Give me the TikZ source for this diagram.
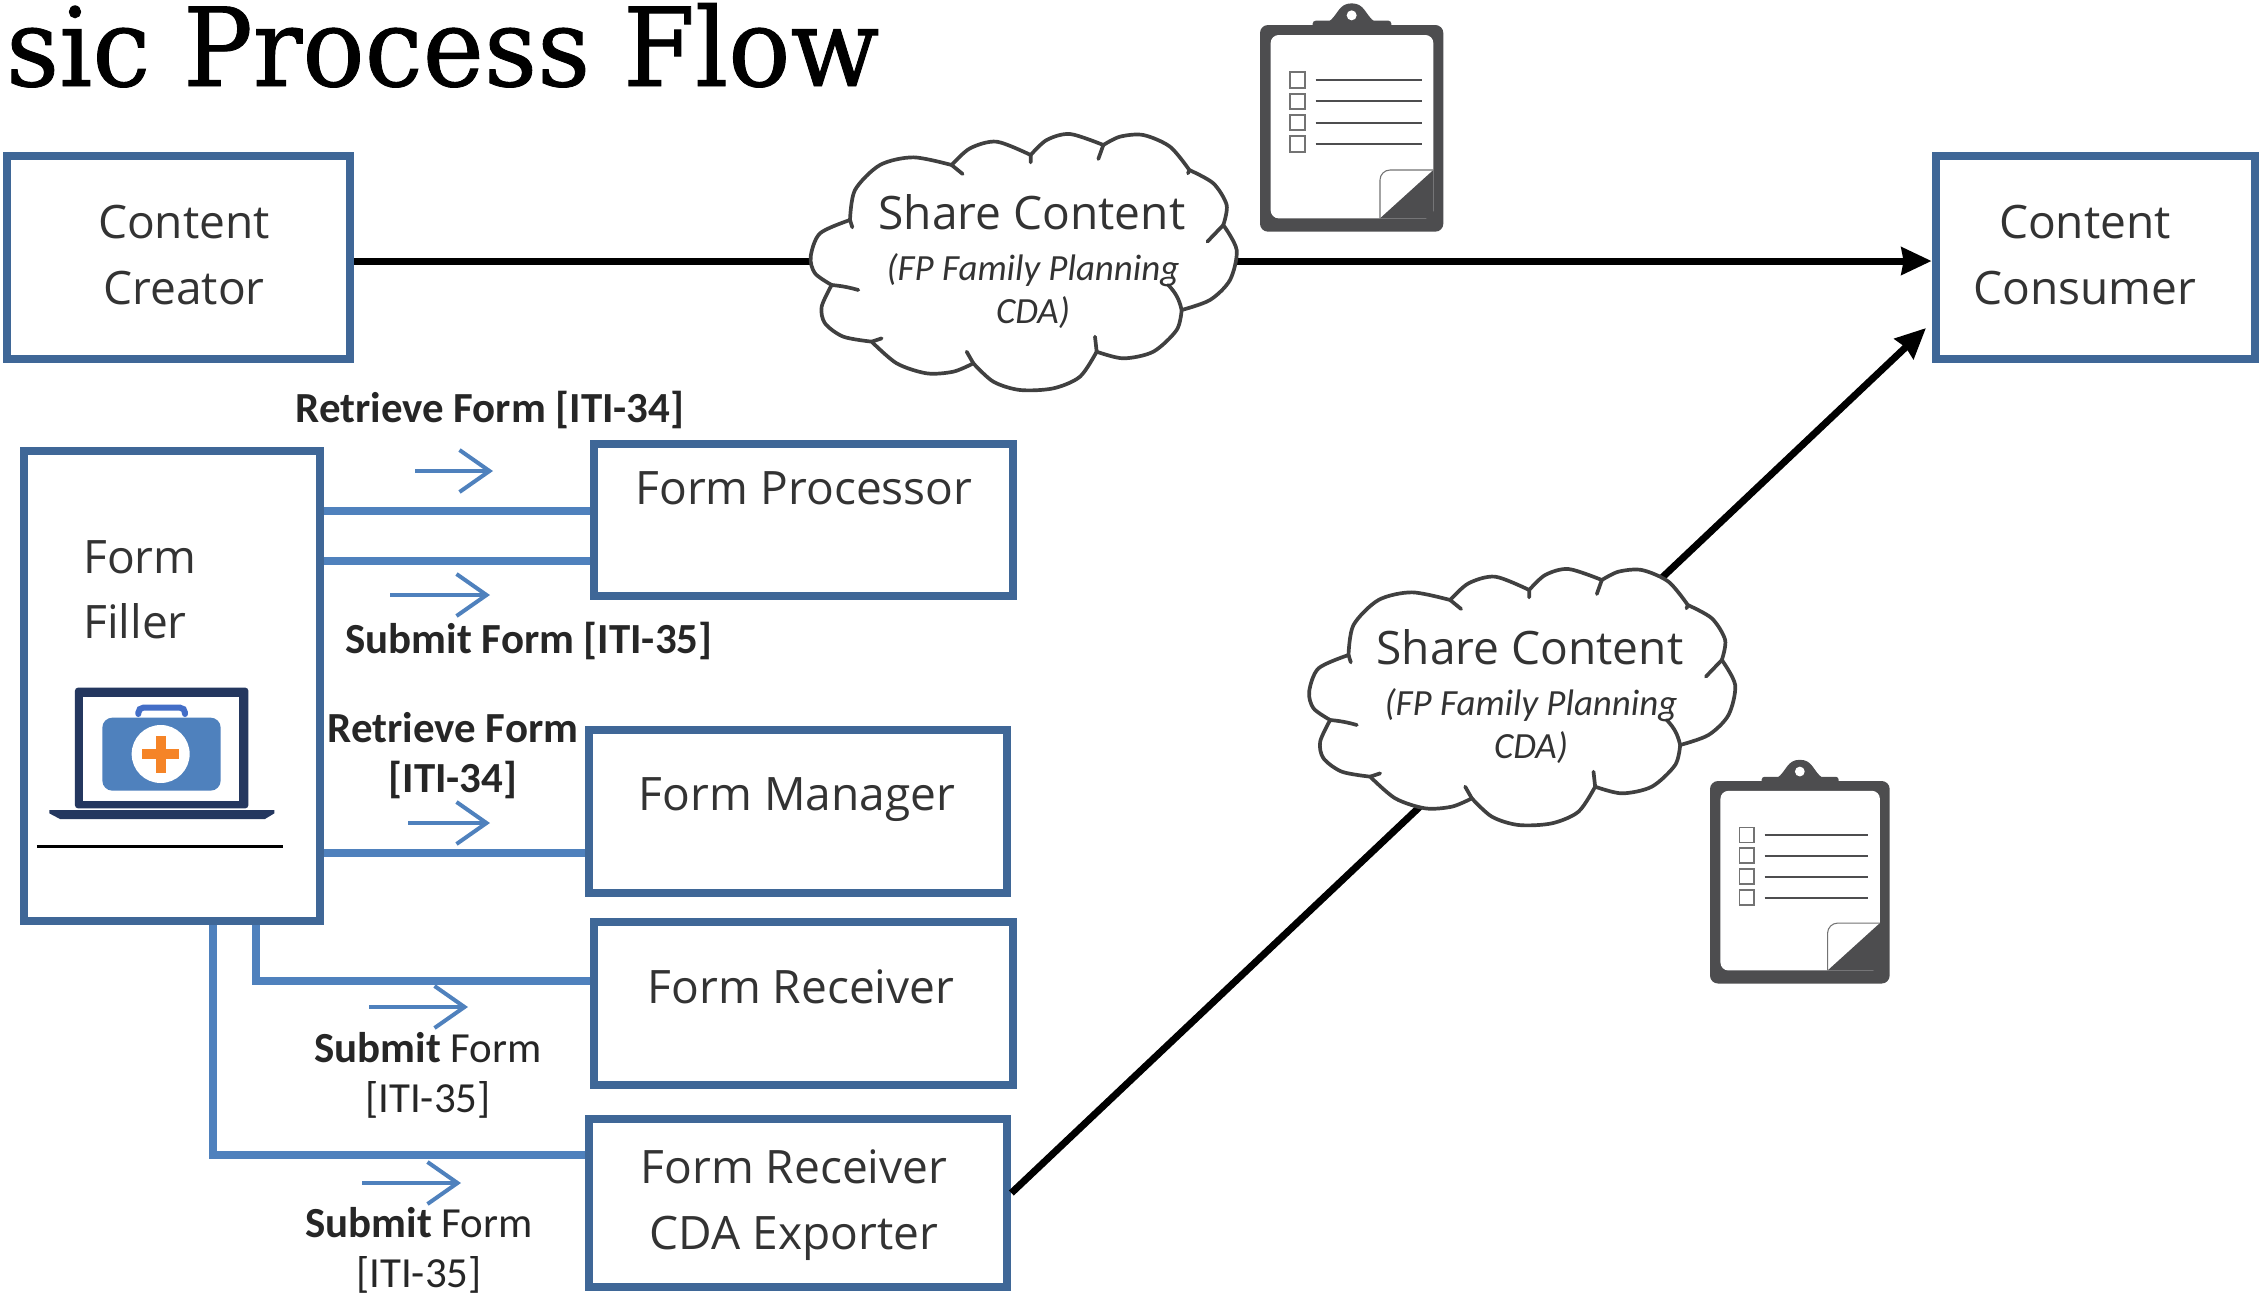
\documentclass[tikz,border=0pt]{standalone}
\usepackage{fontspec}
\setmainfont{Open Sans}
\newfontfamily\labelfont{Carlito}
\newfontfamily\titlefont[FakeStretch=0.95,FakeBold=0.8]{DejaVu Serif}
\usetikzlibrary{calc,arrows.meta}

\definecolor{FormBlue}{HTML}{3F6797}
\definecolor{FeedBlue}{HTML}{4F81BD}
\definecolor{BoardGray}{HTML}{4D4D4F}
\definecolor{LaptopNavy}{HTML}{24375F}
\definecolor{CaseBlue}{HTML}{4F81BD}
\definecolor{CrossOrange}{HTML}{F58427}

\tikzset{
  shareCloud/.pic={
    \begin{scope}[scale=1/3]
      \filldraw [fill=white, draw=black!75, line width=1.05pt]
        plot [smooth] coordinates {(210,330) (225,240) (300,165) (400,142) (515,165)}
        -- plot [smooth] coordinates {(515,165) (570,115) (650,95) (752,135)}
        -- plot [smooth] coordinates {(752,135) (800,90) (870,72) (970,105)}
        -- plot [smooth] coordinates {(970,105) (1020,80) (1090,75) (1170,110) (1228,180)}
        -- plot [smooth] coordinates {(1228,180) (1300,220) (1340,285) (1330,345)}
        -- plot [smooth] coordinates {(1330,345) (1370,420) (1350,510) (1290,570) (1205,600)}
        -- plot [smooth] coordinates {(1205,600) (1190,660) (1120,725) (1030,745) (950,725)}
        -- plot [smooth] coordinates {(950,725) (900,800) (820,835) (720,840) (640,815) (580,760)}
        -- plot [smooth] coordinates {(580,760) (520,785) (440,790) (350,760) (275,695)}
        -- plot [smooth] coordinates {(275,695) (190,680) (135,640) (125,590) (155,525)}
        -- plot [smooth] coordinates {(155,525) (105,490) (92,440) (120,370) (210,330)}
        -- cycle;
      \draw [draw=black!75, line width=1.05pt, line cap=round]
        (515,165) -- (548,192) (752,135) -- (752,157) (970,105) -- (955,147)
        (1228,180) -- (1224,190) (1330,345) -- (1282,395)
        (950,725) -- (945,680) (580,760) -- (560,725) (275,695) -- (305,685)
        (155,525) to [bend left=5] (235,540) (210,330) -- (217,352)
        (1205,600) to [bend right=15] (1165,525);
    \end{scope}
  },
  clipBoard/.pic={
    \begin{scope}[scale=1/3, shift={(-180,-75)}]
      \fill [BoardGray, rounded corners=0.08cm] (180,75) rectangle (730,695);
      \fill [BoardGray, rounded corners=0.03cm] (338,62) rectangle (574,118);
      \fill [BoardGray] (385,66) .. controls (415,45) and (415,10) .. (455,10)
        .. controls (495,10) and (495,45) .. (525,66) -- cycle;
      \fill [white] (455,46) circle [radius=15];
      \fill [white, rounded corners=0.08cm] (212,105) rectangle (700,655);
      \fill [BoardGray] (540,655) -- (700,510) -- (700,655) -- cycle;
      \draw [black!55, line width=0.3pt, rounded corners=0.1cm]
        (540,655) -- (540,510) -- (700,510);
      \foreach \y in {240,304,368,432} {
        \draw [black!55, line width=0.5pt] (270,\y-23) rectangle (315,\y+23);
        \draw [BoardGray, line width=0.55pt] (347,\y) -- (665,\y);
      }
    \end{scope}
  },
  formBox/.style={draw=FormBlue, line width=0.085cm, fill=white, inner sep=0pt},
  boxText/.style={font=\fontsize{13.1}{18.6}\selectfont, align=center, text=black!80, inner sep=0pt},
  noteText/.style={font=\labelfont\itshape\fontsize{10.5}{12.3}\selectfont, align=center, text=black!80, inner sep=0pt},
  linkLabel/.style={font=\labelfont\fontsize{12.2}{14.2}\selectfont, align=center, text=black!85, inner sep=0pt},
  feedLine/.style={draw=FeedBlue, line width=0.08cm},
  hintArrow/.style={draw=FeedBlue, line width=0.04cm, -{Straight Barb[length=0.3cm, width=0.42cm]}},
  shareLine/.style={draw=black, line width=0.07cm, -{Stealth[length=0.3cm, width=0.27cm, inset=0.02cm]}}
}

\begin{document}
\begin{tikzpicture}[x=0.01cm, y=-0.01cm]
  \useasboundingbox (0,0) rectangle (2259,1293);

  \node [anchor=base east, inner sep=0pt, font=\titlefont\fontsize{31}{36}\selectfont] (Title) at (880,86) {sic Process Flow};

  % boxes
  \node [formBox, minimum width=3.43cm, minimum height=2.03cm] (Creator)  at (178.5,257.5) {};
  \node [formBox, minimum width=3.19cm, minimum height=2.03cm] (Consumer) at (2095.5,257.5) {};
  \node [formBox, minimum width=2.96cm, minimum height=4.70cm] (Filler)   at (172,686) {};
  \node [formBox, minimum width=4.19cm, minimum height=1.52cm] (Processor) at (803.5,520) {};
  \node [formBox, minimum width=4.18cm, minimum height=1.63cm] (Manager)  at (798,811.5) {};
  \node [formBox, minimum width=4.19cm, minimum height=1.63cm] (Receiver) at (803.5,1003.5) {};
  \node [formBox, minimum width=4.18cm, minimum height=1.68cm] (Exporter) at (798,1203) {};

  \node [boxText] (CreatorText)   at (184,255)  {Content\\Creator};
  \node [boxText] (ConsumerText)  at (2085,255) {Content\\Consumer};
  \node [boxText, align=left] (FillerText) at (140,590) {Form\\Filler};
  \node [boxText] (ProcessorText) at (804,488)  {Form Processor};
  \node [boxText] (ManagerText)   at (797,800)  {Form Manager};
  \node [boxText] (ReceiverText)  at (801,987)  {Form Receiver};
  \node [boxText] (ExporterText)  at (794,1205) {Form Receiver\\CDA Exporter};

  % laptop
  \begin{scope}[scale=1/3, shift={(60,1920)}]
    \fill [LaptopNavy, rounded corners=0.03cm] (165,143) rectangle (685,505);
    \fill [white] (190,170) rectangle (658,482);
    \fill [LaptopNavy] (88,510) -- (763,510) -- (763,520) -- (735,537) -- (120,537) -- (88,520) -- cycle;
    \draw [draw=FeedBlue!85!blue, line width=0.06cm, line cap=round, rounded corners=0.05cm] (355,222) -- (355,203) -- (495,203) -- (495,222);
    \fill [CaseBlue, rounded corners=0.1cm] (247,233) rectangle (602,452);
    \fill [white] (422,342) circle [radius=87];
    \fill [CrossOrange] (407,287) rectangle (437,398);
    \fill [CrossOrange] (365,327) rectangle (478,357);
    \draw [black, line width=0.03cm] (51,618) -- (789,618);
  \end{scope}

  % form connections
  \draw [feedLine] (Filler.east |- 0,511) -- (Processor.west |- 0,511);
  \draw [feedLine] (Filler.east |- 0,561) -- (Processor.west |- 0,561);
  \draw [feedLine] (Filler.east |- 0,853) -- (Manager.west |- 0,853);
  \draw [feedLine] (Filler.south -| 256,0) -- (256,981) -- (Receiver.west |- 0,981);
  \draw [feedLine] (Filler.south -| 213,0) -- (213,1155) -- (Exporter.west |- 0,1155);

  \foreach \Name/\x/\y/\len in {RetrieveA/415/471/78, SubmitA/390/595/100, RetrieveB/408/823/82, SubmitB/369/1007/99, SubmitC/362/1183/99} {
    \coordinate (\Name-start) at (\x,\y);
    \coordinate (\Name-end) at ($(\x,\y)+(\len,0)$);
    \draw [hintArrow] (\Name-start) -- (\Name-end);
  }

  \node [linkLabel] (RetrieveAText) at (490,410)  {\textbf{Retrieve Form [ITI-34]}};
  \node [linkLabel] (SubmitAText)   at (529,641)  {\textbf{Submit Form [ITI-35]}};
  \node [linkLabel] (RetrieveBText) at (453,756)  {\textbf{Retrieve Form}\\\textbf{[ITI-34]}};
  \node [linkLabel] (SubmitBText)   at (428,1075) {\textbf{Submit} Form\\{}[ITI-35]};
  \node [linkLabel] (SubmitCText)   at (419,1250) {\textbf{Submit} Form\\{}[ITI-35]};

  % shared content
  \coordinate (ConsumerIn) at (1926,328);
  \draw [shareLine] (Creator.east |- 0,261) -- (Consumer.west |- 0,261);
  \draw [shareLine] (Exporter.east |- 0,1193) -- (ConsumerIn);

  \pic at (780,110) {shareCloud};
  \pic at (1278.5,545) {shareCloud};
  \node [boxText] (ShareA) at (1032,212) {Share Content};
  \node [noteText] (NoteA) at (1033,291) {(FP Family Planning\\CDA)};
  \node [boxText] (ShareB) at (1530,647) {Share Content};
  \node [noteText] (NoteB) at (1531,726) {(FP Family Planning\\CDA)};

  \pic at (1260,25) {clipBoard};
  \pic [scale=0.98] at (1710,781) {clipBoard};
\end{tikzpicture}
\end{document}
